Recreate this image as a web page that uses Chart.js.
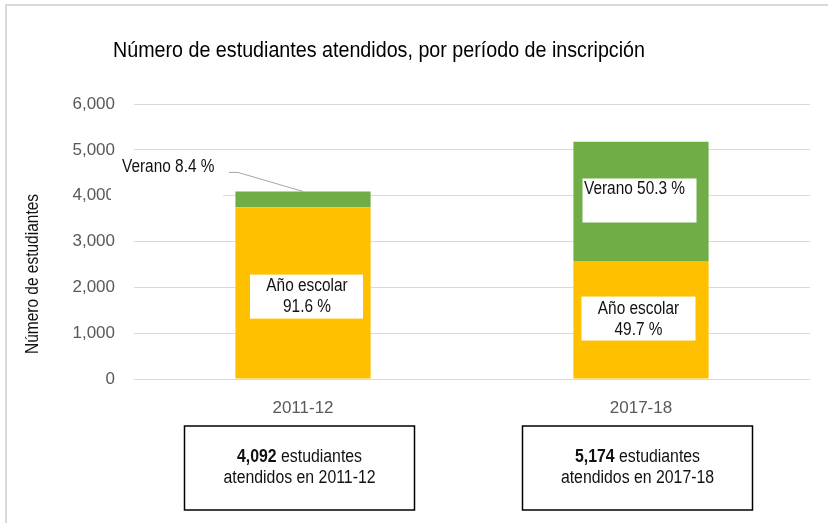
<!DOCTYPE html>
<html>
<head>
<meta charset="utf-8">
<script src="https://cdn.jsdelivr.net/npm/chart.js@4/dist/chart.umd.min.js"></script>
<style>
  html, body { margin: 0; padding: 0; background: #fff; }
  #wrap { width: 828px; height: 523px; position: relative; }
</style>
</head>
<body>
<div id="wrap"><canvas id="enrollChart"></canvas></div>
<script>
// data
const categories = ['2011-12', '2017-18'];
const anoEscolar = [3748, 2572];   // 91.6 % / 49.7 %
const verano = [344, 2602];        // 8.4 % / 50.3 %
const totals = ['4,092', '5,174'];
const pctAno = ['91.6 %', '49.7 %'];
const pctVerano = ['8.4 %', '50.3 %'];
const yMax = 6000;
const yStep = 1000;

const chartTitle = 'Número de estudiantes atendidos, por período de inscripción';
const yTitle = 'Número de estudiantes';

const REG = '"Liberation Sans", Arial, sans-serif';

// no narrow font installed, so squeeze Liberation Sans sideways instead
function narrowText(c, str, x, y, opts) {
  const o = Object.assign({ size: 17.5, sx: 0.88, align: 'center', weight: '', color: '#111' }, opts);
  c.save();
  c.translate(x, y);
  c.scale(o.sx, 1);
  c.font = (o.weight ? o.weight + ' ' : '') + o.size + 'px ' + REG;
  c.fillStyle = o.color;
  c.textAlign = o.align;
  c.textBaseline = 'middle';
  c.fillText(str, 0, 0);
  c.restore();
}
function narrowWidth(c, str, opts) {
  const o = Object.assign({ size: 17.5, sx: 0.88, weight: '' }, opts);
  c.save();
  c.font = (o.weight ? o.weight + ' ' : '') + o.size + 'px ' + REG;
  const w = c.measureText(str).width * o.sx;
  c.restore();
  return w;
}

// everything that is not a bar: frame, title, labels, boxes under the axis
const extras = {
  id: 'extras',
  beforeDraw(chart) {
    const c = chart.ctx;
    c.save();
    c.fillStyle = '#fff';
    c.fillRect(0, 0, chart.width, chart.height);
    // light frame (top + left)
    c.strokeStyle = '#d9d9d9';
    c.lineWidth = 2;
    c.beginPath();
    c.moveTo(828, 5); c.lineTo(6, 5); c.lineTo(6, 523);
    c.stroke();
    c.restore();
    // title
    narrowText(c, chartTitle, 113, 51, { size: 22, sx: 0.895, align: 'left', color: '#000' });
    // y axis title
    c.save();
    c.translate(33, 274);
    c.rotate(-Math.PI / 2);
    narrowText(c, yTitle, 0, 0, { size: 18, sx: 0.86 });
    c.restore();
  },
  afterDatasetsDraw(chart) {
    const c = chart.ctx;
    const x = chart.scales.x, y = chart.scales.y;
    const cx0 = x.getPixelForValue(0), cx1 = x.getPixelForValue(1);
    const boxFont = { size: 18, sx: 0.88 };

    function box(l, t, w, h) {
      c.fillStyle = '#fff';
      c.fillRect(l, t, w, h);
    }
    c.save();

    // Verano 8.4 % (outside, with leader line)
    const top0 = y.getPixelForValue(anoEscolar[0] + verano[0]);
    box(cx0 - 192, top0 - 35, 112, 50);
    narrowText(c, 'Verano ' + pctVerano[0], cx0 - 181, top0 - 24, { align: 'left' });
    c.strokeStyle = '#a6a6a6';
    c.lineWidth = 1;
    c.beginPath();
    c.moveTo(cx0 - 74, top0 - 19);
    c.lineTo(cx0 - 65, top0 - 19);
    c.lineTo(cx0, top0);
    c.stroke();

    // Año escolar 2011-12
    let my = y.getPixelForValue(anoEscolar[0] / 2);
    let bx = cx0 + 4, by = my + 3.5;
    box(bx - 57, by - 22, 113, 44);
    narrowText(c, 'Año escolar', bx, by - 10.5);
    narrowText(c, pctAno[0], bx, by + 11);

    // Verano 50.3 %
    my = y.getPixelForValue(anoEscolar[1] + verano[1] / 2);
    bx = cx1 - 1.5; by = my - 1;
    box(bx - 57, by - 22, 114, 44);
    narrowText(c, 'Verano ' + pctVerano[1], bx - 55.5, by - 11, { align: 'left' });

    // Año escolar 2017-18
    my = y.getPixelForValue(anoEscolar[1] / 2);
    bx = cx1 - 2.5; by = my - 1.5;
    box(bx - 57, by - 22, 114, 44);
    narrowText(c, 'Año escolar', bx, by - 9.5);
    narrowText(c, pctAno[1], bx, by + 12);

    // total boxes under the axis
    [cx0, cx1].forEach((cx, i) => {
      const bcx = cx - 3.5, bcy = 468;
      c.strokeStyle = '#000';
      c.lineWidth = 1.5;
      c.strokeRect(bcx - 115, bcy - 42, 230, 84);
      const boldPart = totals[i];
      const restPart = ' estudiantes';
      const wb = narrowWidth(c, boldPart, Object.assign({ weight: 'bold' }, boxFont));
      const wr = narrowWidth(c, restPart, boxFont);
      const sx = bcx - (wb + wr) / 2;
      narrowText(c, boldPart, sx, bcy - 11, Object.assign({ align: 'left', weight: 'bold' }, boxFont));
      narrowText(c, restPart, sx + wb, bcy - 11, Object.assign({ align: 'left' }, boxFont));
      narrowText(c, 'atendidos en ' + categories[i], bcx, bcy + 10, boxFont);
    });
    c.restore();
  }
};

new Chart(document.getElementById('enrollChart'), {
  type: 'bar',
  data: {
    labels: categories,
    datasets: [
      { label: 'Año escolar', data: anoEscolar, backgroundColor: '#FFC000', borderWidth: 0 },
      { label: 'Verano', data: verano, backgroundColor: '#70AD47', borderWidth: 0 }
    ]
  },
  options: {
    responsive: true,
    maintainAspectRatio: false,
    animation: false,
    devicePixelRatio: 1,
    layout: { padding: { left: 0, right: 18, top: 104, bottom: 104 } },
    datasets: { bar: { barPercentage: 0.4, categoryPercentage: 1 } },
    plugins: {
      legend: { display: false },
      title: { display: false },
      tooltip: { enabled: false }
    },
    scales: {
      x: {
        stacked: true,
        grid: { display: false },
        border: { display: false },
        ticks: { color: '#595959', font: { family: REG, size: 17 }, padding: 11 },
        afterFit: s => { s.height = 40; }
      },
      y: {
        stacked: true,
        min: 0,
        max: yMax,
        grid: { color: '#d9d9d9', lineWidth: 1, drawTicks: false },
        border: { display: false },
        ticks: {
          stepSize: yStep,
          color: '#595959',
          font: { family: REG, size: 17 },
          padding: 19,
          callback: v => v.toLocaleString('en-US')
        },
        afterFit: s => { s.width = 134; }
      }
    }
  },
  plugins: [extras]
});
</script>
</body>
</html>
